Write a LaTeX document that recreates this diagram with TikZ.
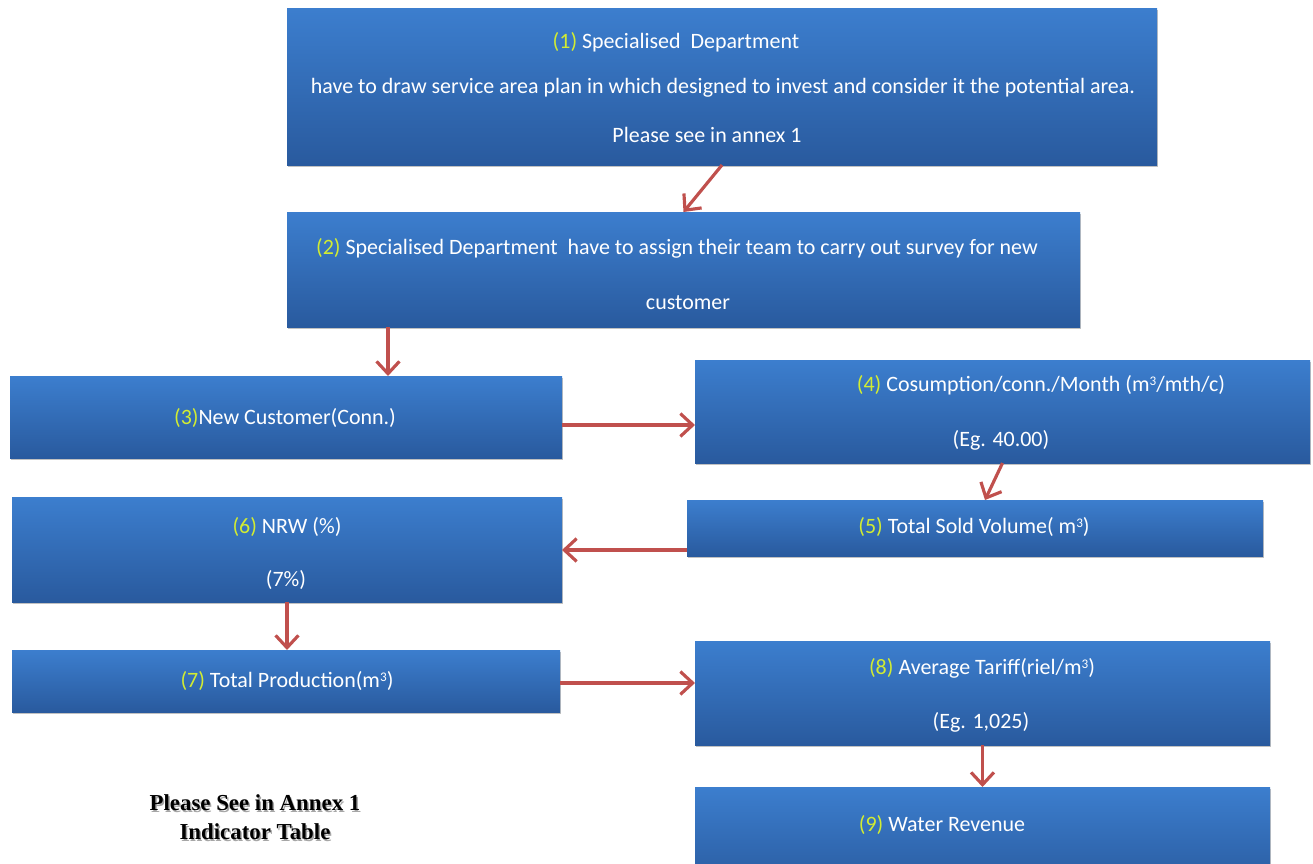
\documentclass[tikz,border=0pt]{standalone}
\usepackage{fontspec}
\setmainfont{Carlito}
\newfontfamily\notefont{Liberation Serif}
\usetikzlibrary{arrows.meta,shadows,calc}
\definecolor{boxtop}{RGB}{60,126,206}
\definecolor{boxbot}{RGB}{41,90,158}
\definecolor{numcol}{RGB}{210,236,50}
\definecolor{arrowred}{RGB}{192,80,77}
\newcommand\stepnum[1]{\textcolor{numcol}{#1}}
\newcommand\cube{\raisebox{0.55ex}{\fontsize{7.5}{8}\selectfont 3}}
% a shaded box given by its left, top, right and bottom edges
\newcommand\flowboxat[5]{%
  \node[flowbox, minimum width={(#4-#2)*0.02cm}, minimum height={(#5-#3)*0.02cm}]
    (#1) at ({(#2+#4)/2},{(#3+#5)/2}) {};}
\begin{document}
\begin{tikzpicture}[x=0.02cm,y=-0.02cm,
  flowbox/.style={inner sep=0pt, outer sep=0pt, top color=boxtop, bottom color=boxbot,
    drop shadow={shadow xshift=0.8pt, shadow yshift=-1.4pt, opacity=0.35, fill=black!70}},
  boxtext/.style={text=white, font=\fontsize{12.5}{15}\selectfont, inner sep=0pt, anchor=center},
  arr/.style={draw=arrowred, line width=1.8pt,
    -{Straight Barb[length=7pt, width=13pt, line width=1.8pt]}},
  note/.style={font=\notefont\fontsize{13}{16}\selectfont\bfseries, inner sep=0pt}]
\useasboundingbox (0,0) rectangle (1313,863);
\begin{scope}
\clip (0,0) rectangle (1313,863);

% boxes
\flowboxat{b1}{287}{8}{1157}{165}
\flowboxat{b2}{287}{212}{1080}{327}
\flowboxat{b3}{10}{376}{562}{458}
\flowboxat{b4}{695}{360}{1310}{463}
\flowboxat{b5}{687}{500}{1263}{556}
\flowboxat{b6}{12}{497}{562}{602}
\flowboxat{b7}{12}{650}{560}{712}
\flowboxat{b8}{695}{641}{1270}{745}
\flowboxat{b9}{695}{787}{1270}{890}

% texts inside the boxes
\node[boxtext] (t1a) at (676,42) {\stepnum{(1)} Specialised\ \ Department};
\node[boxtext] (t1b) at (723,88) {have to draw service area plan in which designed to invest and consider it the potential area.};
\node[boxtext] (t1c) at (707,135) {Please see in annex 1};
\node[boxtext] (t2a) at (677,248) {\stepnum{(2)} Specialised Department\ \ have to assign their team to carry out survey for new};
\node[boxtext] (t2b) at (688,303) {customer};
\node[boxtext] (t3) at (285,418) {\stepnum{(3)}New Customer(Conn.)};
\node[boxtext] (t4a) at (1041,385) {\stepnum{(4)}\ Cosumption/conn./Month (m\cube/mth/c)};
\node[boxtext] (t4b) at (1001,440) {(Eg. 40.00)};
\node[boxtext] (t5) at (974,527) {\stepnum{(5)} Total Sold Volume( m\cube)};
\node[boxtext] (t6a) at (287,527) {\stepnum{(6)} NRW (\%)};
\node[boxtext] (t6b) at (286,580) {(7\%)};
\node[boxtext] (t7) at (287,681) {\stepnum{(7)} Total Production(m\cube)};
\node[boxtext] (t8a) at (982,668) {\stepnum{(8)} Average Tariff(riel/m\cube)};
\node[boxtext] (t8b) at (981,722) {(Eg. 1,025)};
\node[boxtext] (t9) at (942,825) {\stepnum{(9)} Water Revenue};

% connectors
\draw[arr] (b1.south) -- (b2.north);
\draw[arr] ([xshift={101*0.02cm}]b2.south west) -- ([xshift={101*0.02cm}]b2.south west |- b3.north);
\draw[arr] ([yshift={-8*0.02cm}]b3.east) -- ([yshift={-8*0.02cm}]b3.east -| b4.west);
\draw[arr] (b4.south) -- ([xshift={10*0.02cm}]b5.north);
\draw[arr] ([yshift={-22*0.02cm}]b5.west) -- ([yshift={-22*0.02cm}]b5.west -| b6.east);
\draw[arr] (b6.south) -- (b6.south |- b7.north);
\draw[arr] ([yshift={-2*0.02cm}]b7.east) -- ([yshift={-2*0.02cm}]b7.east -| b8.west);
\draw[arr] (b8.south) -- (b8.south |- b9.north);

% note with a soft shadow
\node[note, text=black!35] (n1s) at (256.5,804.5) {Please See in Annex 1};
\node[note] (n1) at (255,803) {Please See in Annex 1};
\node[note, text=black!35] (n2s) at (256.5,833.5) {Indicator Table};
\node[note] (n2) at (255,832) {Indicator Table};
\end{scope}
\end{tikzpicture}
\end{document}
